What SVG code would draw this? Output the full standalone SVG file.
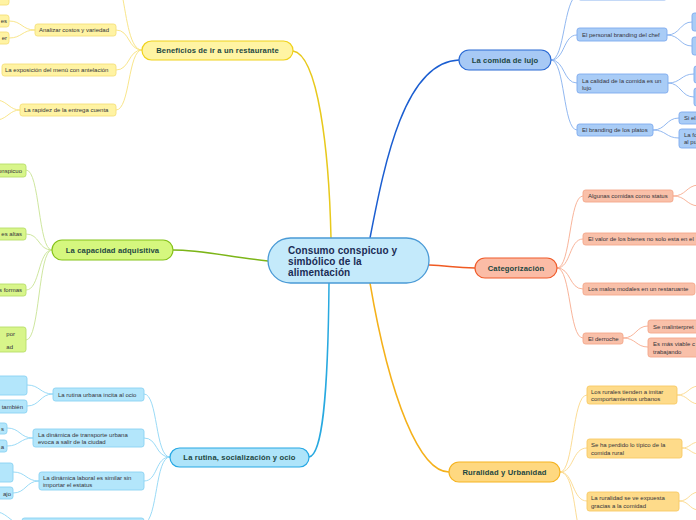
<svg xmlns="http://www.w3.org/2000/svg" width="696" height="520" viewBox="0 0 696 520">
<style>
text{font-family:"Liberation Sans",Arial,sans-serif;}
.c{font-size:6px;fill:#33343a;}
.m{font-size:7.6px;font-weight:bold;fill:#1d4742;text-anchor:middle;letter-spacing:0.15px;}
.ctr{font-size:10px;font-weight:bold;fill:#1b2c55;letter-spacing:0.1px;}
.cl{fill:none;stroke-width:0.9;}
.ml{fill:none;stroke-width:1.5;}
.y{fill:#fff3a3;stroke:#f5e07a;stroke-width:0.9;}
.g{fill:#d8f58a;stroke:#b8df6a;stroke-width:0.9;}
.b{fill:#b3e6fb;stroke:#8ad3f3;stroke-width:0.9;}
.l{fill:#a9ccf6;stroke:#7eaaee;stroke-width:0.9;}
.s{fill:#f9c0a9;stroke:#f4a78a;stroke-width:0.9;}
.o{fill:#fedb8a;stroke:#f8ca64;stroke-width:0.9;}
</style>
<rect width="696" height="520" fill="#ffffff"/>
<g id="connectors">
  <path class="ml" stroke="#e8c91c" d="M331,238 C329,150 318,55 293,51"/>
  <path class="ml" stroke="#1b5ed1" d="M370,238 C385,160 405,62 459,60"/>
  <path class="ml" stroke="#7cb518" d="M268,261 C225,256 200,250 173,250"/>
  <path class="ml" stroke="#f05a22" d="M429,265 C450,266 455,268 475,268"/>
  <path class="ml" stroke="#28a9e0" d="M329,283 C328,400 322,455 309,457"/>
  <path class="ml" stroke="#f5b11a" d="M370,283 C390,400 420,472 449,472"/>
  <g stroke="#f7e27e">
    <path class="cl" d="M142,50 C130,50 127,20 122,-6"/>
    <path class="cl" d="M142,50 C128,50 130,30 116,30"/>
    <path class="cl" d="M142,50 C128,50 130,70 116,70"/>
    <path class="cl" d="M142,50 C128,50 130,110 116,110"/>
    <path class="cl" d="M35,30 C22,30 22,21 9,21"/>
    <path class="cl" d="M35,30 C22,30 22,38 9,38"/>
    <path class="cl" d="M20,110 C10,110 8,102 -2,100"/>
    <path class="cl" d="M20,110 C10,110 8,118 -2,120"/>
  </g>
  <g stroke="#c8e394">
    <path class="cl" d="M52,250 C38,250 40,170 26,170"/>
    <path class="cl" d="M52,250 C38,250 40,234 26,234"/>
    <path class="cl" d="M52,250 C38,250 40,290 26,290"/>
    <path class="cl" d="M52,250 C38,250 40,340 26,340"/>
  </g>
  <g stroke="#8fd6f5">
    <path class="cl" d="M170,457 C155,457 158,394 144,394"/>
    <path class="cl" d="M170,457 C155,457 158,438 144,438"/>
    <path class="cl" d="M170,457 C155,457 158,481 144,481"/>
    <path class="cl" d="M170,457 C155,457 158,519 144,524"/>
    <path class="cl" d="M53,394 C40,394 40,385 27,385"/>
    <path class="cl" d="M53,394 C40,394 40,406 27,406"/>
    <path class="cl" d="M33,438 C20,438 20,428 7,428"/>
    <path class="cl" d="M33,438 C20,438 20,446 7,446"/>
    <path class="cl" d="M39,481 C26,481 26,472 13,472"/>
    <path class="cl" d="M39,481 C26,481 26,493 13,493"/>
    <path class="cl" d="M22,524 C12,524 8,514 -2,512"/>
  </g>
  <g stroke="#86b0ee">
    <path class="cl" d="M551,60 C565,60 563,0 578,-6"/>
    <path class="cl" d="M551,60 C565,60 563,35 577,35"/>
    <path class="cl" d="M551,60 C565,60 563,83 577,83"/>
    <path class="cl" d="M551,60 C565,60 563,130 577,130"/>
    <path class="cl" d="M667,35 C680,35 680,22 692,22"/>
    <path class="cl" d="M667,35 C680,35 680,46 692,46"/>
    <path class="cl" d="M668,83 C681,83 681,74 694,74"/>
    <path class="cl" d="M668,83 C681,83 681,97 694,97"/>
    <path class="cl" d="M653,130 C666,130 666,118 679,118"/>
    <path class="cl" d="M653,130 C666,130 666,138 679,138"/>
  </g>
  <g stroke="#f7ab8e">
    <path class="cl" d="M557,268 C571,268 569,196 583,196"/>
    <path class="cl" d="M557,268 C571,268 569,239 583,239"/>
    <path class="cl" d="M557,268 C571,268 569,289 583,289"/>
    <path class="cl" d="M557,268 C571,268 569,338 583,338"/>
    <path class="cl" d="M673,196 C686,196 686,186 698,185"/>
    <path class="cl" d="M673,196 C686,196 686,205 698,206"/>
    <path class="cl" d="M623,338 C636,338 636,326 648,326"/>
    <path class="cl" d="M623,338 C636,338 636,347 648,347"/>
  </g>
  <g stroke="#fbd88a">
    <path class="cl" d="M560,472 C574,472 572,395 587,395"/>
    <path class="cl" d="M560,472 C574,472 572,448 587,448"/>
    <path class="cl" d="M560,472 C574,472 572,501 587,501"/>
    <path class="cl" d="M560,472 C572,472 574,505 578,525"/>
    <path class="cl" d="M677,395 C688,395 688,387 698,386"/>
    <path class="cl" d="M677,395 C688,395 688,403 698,404"/>
    <path class="cl" d="M682,448 C690,448 690,443 698,442"/>
    <path class="cl" d="M682,448 C690,448 690,453 698,454"/>
    <path class="cl" d="M679,501 C689,501 689,493 698,492"/>
    <path class="cl" d="M679,501 C689,501 689,509 698,510"/>
  </g>
</g>
<g id="center">
  <rect x="268" y="238" width="161" height="45" rx="22.5" fill="#c4eafb" stroke="#4a9ad6" stroke-width="1.3"/>
  <text class="ctr" x="288" y="254">Consumo conspicuo y</text>
  <text class="ctr" x="288" y="265">simbólico de la</text>
  <text class="ctr" x="288" y="276">alimentación</text>
</g>
<g id="beneficios">
  <rect x="142" y="41" width="151" height="19" rx="9.5" fill="#fff4a3" stroke="#f0d21c" stroke-width="1.2"/>
  <text class="m" x="217.5" y="53.2">Beneficios de ir a un restaurante</text>
</g>
<g id="ben-top"><rect class="y" x="-10" y="-8" width="19" height="13" rx="2.5"/></g>
<g id="analizar"><rect class="y" x="35" y="24" width="81" height="12" rx="2.5"/><text class="c" x="39" y="32.3">Analizar costos y variedad</text></g>
<g id="ana-1"><rect class="y" x="-20" y="15" width="29" height="12" rx="2.5"/><text class="c" x="7" y="23.3" text-anchor="end">es</text></g>
<g id="ana-2"><rect class="y" x="-20" y="32" width="29" height="12" rx="2.5"/><text class="c" x="7" y="40.3" text-anchor="end">er</text></g>
<g id="exposicion"><rect class="y" x="2" y="64" width="114" height="12" rx="2.5"/><text class="c" x="5" y="72.3">La exposición del menú con antelación</text></g>
<g id="rapidez"><rect class="y" x="20" y="104" width="96" height="12" rx="2.5"/><text class="c" x="24" y="112.3">La rapidez de la entrega cuenta</text></g>

<g id="capacidad">
  <rect x="52" y="240" width="121" height="20" rx="10" fill="#d5f77e" stroke="#86c31a" stroke-width="1.2"/>
  <text class="m" x="112.5" y="252.7">La capacidad adquisitiva</text>
</g>
<g id="cap-1"><rect class="g" x="-20" y="164" width="46" height="13" rx="2.5"/><text class="c" x="22" y="172.5" text-anchor="end">onspicuo</text></g>
<g id="cap-2"><rect class="g" x="-20" y="228" width="46" height="12" rx="2.5"/><text class="c" x="22" y="236.3" text-anchor="end">es altas</text></g>
<g id="cap-3"><rect class="g" x="-20" y="284" width="46" height="12" rx="2.5"/><text class="c" x="22" y="292.3" text-anchor="end">s formas</text></g>
<g id="cap-4"><rect class="g" x="-20" y="327" width="46" height="25" rx="2.5"/><text class="c" x="15" y="336" text-anchor="end">por</text><text class="c" x="13" y="349" text-anchor="end">ad</text></g>

<g id="rutina">
  <rect x="170" y="448" width="139" height="19" rx="9.5" fill="#aee4fa" stroke="#26a8e4" stroke-width="1.2"/>
  <text class="m" x="239.5" y="460.2">La rutina, socialización y ocio</text>
</g>
<g id="rut-urbana"><rect class="b" x="53" y="388" width="91" height="13" rx="2.5"/><text class="c" x="58" y="396.8">La rutina urbana incita al ocio</text></g>
<g id="rut-u1"><rect class="b" x="-20" y="376" width="47" height="19" rx="2.5"/></g>
<g id="rut-u2"><rect class="b" x="-20" y="400" width="47" height="13" rx="2.5"/><text class="c" x="23" y="408.5" text-anchor="end">también</text></g>
<g id="rut-transporte"><rect class="b" x="33" y="429" width="111" height="18" rx="2.5"/><text class="c" x="38" y="436.5">La dinámica de transporte urbana</text><text class="c" x="38" y="444">evoca a salir de la ciudad</text></g>
<g id="rut-t1"><rect class="b" x="-20" y="423" width="27" height="11" rx="2.5"/><text class="c" x="4" y="431" text-anchor="end">s</text></g>
<g id="rut-t2"><rect class="b" x="-20" y="440" width="27" height="12" rx="2.5"/><text class="c" x="4" y="448.5" text-anchor="end">a</text></g>
<g id="rut-laboral"><rect class="b" x="39" y="472" width="105" height="18" rx="2.5"/><text class="c" x="43" y="479.5">La dinámica laboral es similar sin</text><text class="c" x="43" y="487">importar el estatus</text></g>
<g id="rut-l1"><rect class="b" x="-20" y="463" width="33" height="19" rx="2.5"/></g>
<g id="rut-l2"><rect class="b" x="-20" y="487" width="33" height="12" rx="2.5"/><text class="c" x="11" y="495.5" text-anchor="end">ajo</text></g>
<g id="rut-bottom"><rect class="b" x="22" y="518" width="122" height="14" rx="2.5"/></g>

<g id="lujo">
  <rect x="459" y="50" width="92" height="20" rx="10" fill="#a7c9f5" stroke="#2a6ad4" stroke-width="1.2"/>
  <text class="m" x="505" y="62.7">La comida de lujo</text>
</g>
<g id="lujo-top"><rect class="l" x="578" y="-14" width="89" height="14" rx="2.5"/></g>
<g id="lujo-chef"><rect class="l" x="577" y="28" width="90" height="13" rx="2.5"/><text class="c" x="582" y="36.8">El personal branding del chef</text></g>
<g id="chef-1"><rect class="l" x="692" y="13" width="20" height="18" rx="2.5"/></g>
<g id="chef-2"><rect class="l" x="692" y="37" width="20" height="18" rx="2.5"/></g>
<g id="lujo-calidad"><rect class="l" x="577" y="74" width="91" height="19" rx="2.5"/><text class="c" x="582" y="82.5">La calidad de la comida es un</text><text class="c" x="582" y="90.3">lujo</text></g>
<g id="cal-1"><rect class="l" x="694" y="66" width="20" height="17" rx="2.5"/></g>
<g id="cal-2"><rect class="l" x="694" y="88" width="20" height="18" rx="2.5"/></g>
<g id="lujo-platos"><rect class="l" x="577" y="124" width="76" height="12" rx="2.5"/><text class="c" x="582" y="132.3">El branding de los platos</text></g>
<g id="plat-1"><rect class="l" x="679" y="112" width="30" height="12" rx="2.5"/><text class="c" x="684" y="120.3">Si el</text></g>
<g id="plat-2"><rect class="l" x="679" y="129" width="30" height="19" rx="2.5"/><text class="c" x="684" y="136.5">La fo</text><text class="c" x="684" y="144.3">al pu</text></g>

<g id="categorizacion">
  <rect x="475" y="258" width="82" height="20" rx="10" fill="#fbbca6" stroke="#f05b2a" stroke-width="1.2"/>
  <text class="m" x="516" y="270.7">Categorización</text>
</g>
<g id="cat-status"><rect class="s" x="583" y="190" width="90" height="12" rx="2.5"/><text class="c" x="588" y="198.3">Algunas comidas como status</text></g>
<g id="cat-valor"><rect class="s" x="583" y="233" width="130" height="12" rx="2.5"/><text class="c" x="588" y="241.3">El valor de los bienes no solo esta en el</text></g>
<g id="cat-modales"><rect class="s" x="583" y="283" width="112" height="12" rx="2.5"/><text class="c" x="588" y="291.3">Los malos modales en un restaruante</text></g>
<g id="cat-derroche"><rect class="s" x="583" y="333" width="40" height="11" rx="2.5"/><text class="c" x="588" y="340.8">El derroche</text></g>
<g id="der-1"><rect class="s" x="648" y="320" width="60" height="13" rx="2.5"/><text class="c" x="653" y="328.8">Se malinterpret</text></g>
<g id="der-2"><rect class="s" x="648" y="338" width="60" height="19" rx="2.5"/><text class="c" x="653" y="346">Es más viable c</text><text class="c" x="653" y="353.5">trabajando</text></g>

<g id="ruralidad">
  <rect x="449" y="462" width="111" height="20" rx="10" fill="#fed880" stroke="#f5b320" stroke-width="1.2"/>
  <text class="m" x="504.5" y="474.7">Ruralidad y Urbanidad</text>
</g>
<g id="rur-imitar"><rect class="o" x="587" y="386" width="90" height="18" rx="2.5"/><text class="c" x="591" y="393.5">Los rurales tienden a imitar</text><text class="c" x="591" y="401">comportamientos urbanos</text></g>
<g id="rur-tipico"><rect class="o" x="587" y="439" width="95" height="19" rx="2.5"/><text class="c" x="591" y="446.8">Se ha perdido lo típico de la</text><text class="c" x="591" y="454.5">comida rural</text></g>
<g id="rur-expuesta"><rect class="o" x="587" y="492" width="92" height="19" rx="2.5"/><text class="c" x="591" y="499.8">La ruralidad se ve expuesta</text><text class="c" x="591" y="507.5">gracias a la comidad</text></g>
</svg>
